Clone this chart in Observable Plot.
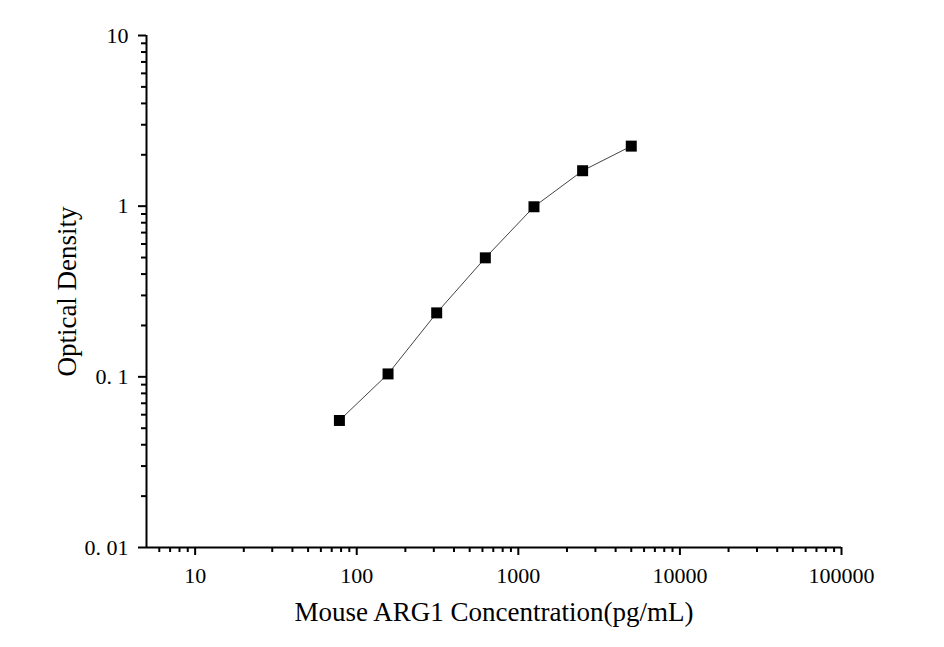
<!DOCTYPE html>
<html>
<head>
<meta charset="utf-8">
<script src="https://cdn.jsdelivr.net/npm/d3@7"></script>
<script src="https://cdn.jsdelivr.net/npm/@observablehq/plot@0.6"></script>
<style>
  html, body { margin: 0; padding: 0; background: #fff; }
  #chart svg { display: block; }
</style>
</head>
<body>
<div id="chart"></div>
<script>
const concentration = [78.125, 156.25, 312.5, 625, 1250, 2500, 5000];
const opticalDensity = [0.0555, 0.104, 0.237, 0.498, 0.992, 1.613, 2.248];
const xMajorTicks = [10, 100, 1000, 10000, 100000];
const xMajorLabels = ["10", "100", "1000", "10000", "100000"];
const yMajorTicks = [0.01, 0.1, 1, 10];
const yMajorLabels = ["0. 01", "0. 1", "1", "10"];
const xTitle = "Mouse ARG1 Concentration(pg/mL)";
const yTitle = "Optical Density";

const data = concentration.map((c, i) => ({c, od: opticalDensity[i]}));

const xMinor = [];
for (const d of [1, 10, 100, 1000, 10000]) for (let k = 2; k <= 9; k++) {
  const v = k * d; if (v > 5 && v < 100000 && !xMajorTicks.includes(v)) xMinor.push(v);
}
const yMinor = [];
for (const d of [0.01, 0.1, 1]) for (let k = 2; k <= 9; k++) yMinor.push(+(k * d).toPrecision(3));

const font = "'Liberation Serif', 'Times New Roman', serif";

const chart = Plot.plot({
  width: 944,
  height: 647,
  marginLeft: 146,
  marginRight: 103,
  marginTop: 35,
  marginBottom: 100,
  style: {fontFamily: font, fontSize: "22px", color: "#000", background: "#fff"},
  x: {type: "log", domain: [5, 100000]},
  y: {type: "log", domain: [0.01, 10]},
  marks: [
    Plot.axisX(xMinor, {tickSize: 5, strokeWidth: 2, tickFormat: () => "", label: null}),
    Plot.axisX(xMajorTicks, {tickSize: 8, strokeWidth: 2, tickPadding: 12,
      tickFormat: d => xMajorLabels[xMajorTicks.indexOf(d)], label: null, fontSize: 22}),
    Plot.axisY(yMinor, {tickSize: 5, strokeWidth: 2, tickFormat: () => "", label: null}),
    Plot.axisY(yMajorTicks, {tickSize: 8, strokeWidth: 2, tickPadding: 10,
      tickFormat: d => yMajorLabels[yMajorTicks.indexOf(d)], label: null, fontSize: 22}),
    Plot.ruleX([5], {strokeWidth: 2, stroke: "#000"}),
    Plot.ruleY([0.01], {strokeWidth: 2, stroke: "#000"}),
    Plot.line(data, {x: "c", y: "od", stroke: "#444", strokeWidth: 1}),
    Plot.dot(data, {x: "c", y: "od", symbol: "square", r: 6.2, fill: "#000", stroke: "none"}),
    Plot.text([xTitle], {frameAnchor: "bottom", dy: 73, fontSize: 27, fill: "#000"}),
    Plot.text([yTitle], {frameAnchor: "left", dx: -79, rotate: -90, textAnchor: "middle", fontSize: 27, fill: "#000"})
  ]
});
document.getElementById("chart").append(chart);
</script>
</body>
</html>
